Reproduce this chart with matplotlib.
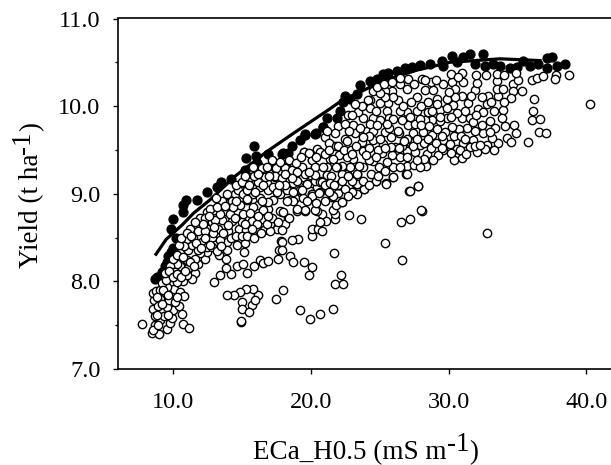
import numpy as np
from matplotlib import pyplot as plt

plt.rcParams['font.family'] = ['Liberation Serif', 'DejaVu Serif']

# (ECa, yield)
open_base = [
    (7.72, 7.51), (8.45, 7.41), (8.69, 7.50), (9.01, 7.40), (9.54, 7.46), (9.78, 7.52), (9.90, 7.58),
    (10.75, 7.51), (11.16, 7.47), (10.63, 7.63), (10.02, 7.67), (10.46, 7.72), (9.18, 7.66), (8.57, 7.68),
    (8.62, 7.79), (8.57, 7.87), (8.76, 7.89), (9.30, 7.79), (9.78, 7.86), (10.09, 7.91), (10.51, 7.88),
    (10.80, 7.83), (9.54, 7.71), (9.05, 7.56), (9.37, 7.60), (8.57, 7.44), (8.93, 7.50), (8.69, 7.60),
    (9.73, 7.79), (9.05, 7.80), (10.14, 7.77), (9.54, 7.94), (9.05, 7.90),
]
open_lower = [
    (13.00, 7.99), (13.41, 8.07), (14.18, 8.08), (13.85, 8.15), (14.62, 8.18), (15.10, 8.20), (15.39, 8.09),
    (15.88, 8.18), (16.31, 8.24), (16.56, 8.21), (16.92, 8.23), (17.65, 8.25), (17.72, 8.36), (17.81, 8.46),
    (17.45, 7.80), (16.19, 7.85), (15.83, 7.91), (15.27, 7.91), (14.86, 7.88), (14.43, 7.84), (13.94, 7.84),
    (15.03, 7.76), (14.98, 7.68), (15.76, 7.73), (15.54, 7.65), (14.91, 7.54), (14.91, 7.55), (15.95, 7.79),
    (13.34, 8.30), (13.85, 8.25), (13.94, 8.45), (13.94, 8.36), (14.67, 8.42), (15.23, 8.44), (15.15, 8.33),
    (20.55, 8.61),
    (32.77, 8.55), (28.05, 8.80), (27.21, 8.71), (26.53, 8.68), (25.39, 8.44), (26.60, 8.24), (23.63, 8.71),
    (22.78, 8.76), (27.81, 9.09), (27.16, 9.03), (21.71, 8.32), (22.20, 8.07), (21.76, 7.97), (22.37, 7.97),
    (21.59, 7.68), (20.67, 7.63), (19.95, 7.57), (19.20, 7.67), (17.96, 7.90), (19.51, 8.22), (20.12, 8.16),
    (19.90, 8.07), (18.50, 8.29), (18.69, 8.22), (19.10, 8.48), (18.62, 8.47), (20.12, 8.52), (20.12, 8.60),
    (20.55, 8.60), (20.80, 8.58), (21.09, 8.69), (20.80, 8.77), (21.76, 8.71), (21.76, 8.77), (21.64, 8.81),
    (22.25, 8.91), (21.84, 8.87), (21.52, 8.96), (22.00, 9.01), (22.97, 9.02), (23.34, 9.00), (23.87, 9.05),
    (23.29, 9.11), (24.74, 9.15), (25.47, 9.12), (25.95, 9.19), (26.92, 9.22), (20.63, 9.02), (20.07, 9.00),
    (19.27, 9.04), (18.86, 8.95), (19.59, 8.80), (20.43, 8.80), (18.38, 8.72), (18.13, 8.66), (18.98, 8.80),
    (19.46, 8.95), (18.30, 8.96), (20.67, 9.14), (18.86, 9.15), (20.19, 9.12), (21.16, 9.21), (22.00, 9.10),
    (22.61, 9.22), (23.38, 9.22), (17.89, 8.79), (17.89, 8.45), (17.89, 8.36),
]
open_left = [
    (11.60, 8.10), (11.35, 8.03), (10.75, 8.00), (10.26, 7.99), (9.78, 8.05), (10.51, 8.18), (11.11, 8.15),
    (11.79, 8.20), (12.32, 8.26), (12.44, 8.33), (11.96, 8.32), (11.60, 8.26), (10.99, 8.24), (10.26, 8.20),
    (10.51, 8.32), (11.11, 8.36), (11.35, 8.41), (10.99, 8.48), (11.47, 8.49), (12.08, 8.45), (12.81, 8.49),
    (13.05, 8.42), (12.49, 8.39), (11.23, 8.60), (11.84, 8.58), (12.56, 8.60), (13.29, 8.60), (14.02, 8.58),
    (14.81, 8.60), (15.30, 8.59), (16.19, 8.60), (16.60, 8.59), (17.04, 8.65), (17.52, 8.60), (17.89, 8.59),
    (18.44, 8.72), (17.77, 8.80), (16.92, 8.83), (16.44, 8.71), (15.71, 8.69), (14.98, 8.68), (14.26, 8.69),
    (13.53, 8.70), (12.80, 8.68), (11.96, 8.72), (12.49, 8.79), (12.97, 8.81), (13.77, 8.80), (14.38, 8.85),
    (14.86, 8.87), (15.35, 8.93), (14.50, 9.00), (13.53, 8.91), (15.23, 9.12), (15.71, 9.15), (16.31, 9.08),
    (16.56, 9.28), (17.40, 9.29), (18.18, 9.30), (19.34, 9.31), (20.31, 9.30), (20.07, 9.12), (19.22, 9.04),
    (18.25, 9.13), (17.40, 9.19), (16.80, 9.12), (17.52, 9.02), (18.49, 8.93), (19.58, 8.81), (20.31, 8.81),
    (20.07, 9.00), (17.28, 8.93), (16.19, 8.87), (18.00, 8.79), (18.98, 8.83), (18.49, 9.27), (19.58, 9.15),
    (20.43, 9.08), (16.12, 9.27), (20.67, 8.68),
    (9.78, 8.17), (10.14, 8.11), (10.99, 8.07), (11.84, 8.36), (12.80, 8.39), (13.41, 8.47), (12.32, 8.58),
    (13.05, 8.70), (14.14, 8.91), (13.90, 9.00), (14.74, 9.04), (15.10, 9.00), (15.83, 9.00), (16.31, 8.95),
    (16.92, 9.04), (17.77, 9.00), (18.25, 9.04), (18.73, 9.12), (15.83, 8.85), (16.56, 8.81), (15.10, 8.77),
    (14.14, 8.77), (13.41, 8.77), (12.32, 8.72), (17.04, 8.58), (16.07, 8.65),
    (17.21, 9.39), (16.44, 9.29), (17.46, 9.29), (19.51, 9.48), (20.48, 9.50), (20.72, 9.47), (20.07, 9.38),
    (21.16, 9.30), (18.13, 9.29), (18.62, 9.27), (17.41, 9.20), (16.68, 9.19), (17.94, 9.18), (19.46, 9.19),
    (20.31, 9.15), (20.67, 9.13), (19.71, 9.11), (18.98, 9.15), (16.20, 9.13), (15.59, 9.19), (15.35, 9.04),
    (15.96, 9.02), (16.56, 9.10), (17.29, 9.08), (18.13, 9.10), (19.34, 9.04), (20.67, 9.02), (20.07, 8.98),
    (18.74, 8.92), (17.53, 9.02), (16.92, 8.91), (14.26, 8.92), (15.35, 8.94), (13.54, 8.92), (12.69, 8.83),
    (14.38, 8.85), (16.44, 8.92), (18.25, 8.92), (21.04, 9.65), (21.40, 9.57),
]
open_right = [
    (28.05, 10.31), (27.09, 10.31), (26.48, 10.25), (25.88, 10.17), (25.39, 10.17), (24.54, 10.17), (24.30, 10.07),
    (25.63, 10.03), (26.36, 10.07), (26.96, 10.20), (27.69, 10.10), (28.30, 10.18), (28.90, 10.18), (29.63, 10.25),
    (30.23, 10.27), (31.08, 10.27), (30.47, 10.20), (31.93, 10.18), (32.05, 10.26), (33.50, 10.29), (33.62, 10.11),
    (32.89, 10.12), (33.50, 10.20), (33.98, 10.20), (34.71, 10.25), (35.07, 10.30), (36.04, 10.30), (36.40, 10.32),
    (36.84, 10.34), (37.78, 10.35), (37.73, 10.31), (38.77, 10.36), (34.66, 10.17), (35.31, 10.17), (34.54, 10.09),
    (36.21, 10.08), (40.27, 10.02), (36.11, 9.94), (36.04, 9.84), (36.64, 9.85), (33.93, 9.96), (33.86, 9.86),
    (34.10, 9.77), (34.76, 9.78), (34.90, 9.69), (34.22, 9.64), (34.51, 9.59), (36.60, 9.70), (37.08, 9.69),
    (35.77, 9.59), (33.62, 9.58), (33.14, 9.64), (32.53, 9.69), (32.77, 9.56), (32.05, 9.48), (32.65, 9.51),
    (31.80, 9.61), (31.08, 9.58), (30.96, 9.41), (30.40, 9.39), (29.63, 9.50), (29.26, 9.44), (28.42, 9.45),
    (28.37, 9.32), (28.85, 9.38), (27.93, 9.56), (28.78, 9.67), (28.17, 9.71), (27.45, 9.69), (27.21, 9.59),
    (26.43, 9.69), (26.12, 9.53), (25.39, 9.70), (24.54, 9.61), (23.70, 9.59), (23.21, 9.69), (22.49, 9.62),
    (21.35, 9.58), (20.43, 9.51), (20.67, 9.48), (19.51, 9.48), (22.00, 9.77), (23.09, 9.79), (23.82, 9.86),
    (24.54, 9.86), (25.51, 9.94), (25.03, 10.03), (23.46, 9.93), (22.73, 9.90), (21.76, 9.69), (21.16, 9.72),
    (20.07, 9.38), (20.31, 9.30), (21.40, 9.40), (22.08, 9.44), (23.09, 9.40), (23.77, 9.49), (24.50, 9.37),
    (25.15, 9.46), (25.88, 9.44), (27.01, 9.49), (27.57, 9.48), (26.96, 9.32), (26.00, 9.30), (24.98, 9.30),
    (23.82, 9.30), (22.85, 9.30), (22.25, 9.23), (21.16, 9.21), (19.58, 9.22), (20.31, 9.21), (20.79, 9.13),
    (22.00, 9.10), (23.33, 9.11), (23.38, 9.22), (24.74, 9.15), (25.46, 9.11), (25.95, 9.19), (26.96, 9.22),
    (27.81, 9.09), (27.21, 9.03), (23.89, 9.05), (22.97, 9.02), (20.62, 9.01), (21.64, 8.97), (22.25, 8.91),
    (27.98, 8.81), (29.87, 9.86), (30.96, 9.86), (31.56, 9.87), (31.32, 9.75), (30.79, 9.74), (30.23, 9.76),
    (29.75, 9.70), (29.14, 9.74), (28.78, 9.84), (29.38, 9.96), (30.35, 10.01), (31.44, 10.03), (32.17, 9.97),
    (32.53, 9.93), (32.41, 9.78), (28.54, 9.93), (27.09, 9.79), (26.36, 9.72), (25.71, 9.86), (24.18, 10.07),
    (27.69, 9.95), (26.96, 9.93), (31.80, 9.82), (29.63, 9.61), (30.11, 9.57), (30.59, 9.51), (31.56, 9.53),
    (29.14, 10.08), (29.87, 10.08), (26.48, 9.95), (25.03, 9.84), (27.57, 9.80), (28.30, 9.84), (25.80, 9.53),
    (25.27, 9.57), (26.48, 9.42), (24.06, 9.72), (24.54, 9.72), (22.25, 9.32), (22.61, 9.42),
]
# the thick overlapping parts, read less exactly
open_dense = [
    (9.2, 7.98), (9.5, 8.02), (9.4, 8.10), (9.7, 8.12), (10.0, 8.05), (10.3, 8.08), (10.6, 8.05), (10.9, 8.12),
    (11.2, 8.22), (11.5, 8.18), (10.0, 8.25), (10.3, 8.30), (10.7, 8.28), (10.8, 8.40), (10.4, 8.42), (10.6, 8.50),
    (11.0, 8.55), (11.3, 8.52), (11.7, 8.44), (12.0, 8.38), (12.3, 8.50), (12.7, 8.42), (13.2, 8.35), (13.5, 8.40),
    (12.9, 8.55), (12.2, 8.65), (11.6, 8.68), (12.6, 8.75), (13.0, 8.62), (13.6, 8.55), (14.2, 8.50), (14.6, 8.52),
    (14.0, 8.64), (14.5, 8.72), (15.0, 8.52), (15.4, 8.52), (15.9, 8.50), (15.7, 8.60), (15.2, 8.65), (16.4, 8.55),
    (16.8, 8.66), (17.2, 8.72), (17.6, 8.68), (13.2, 8.85), (13.8, 8.86), (14.6, 8.92), (15.6, 8.78), (16.2, 8.75),
    (16.9, 8.75), (13.1, 8.95), (9.3, 7.90), (9.6, 7.84), (10.3, 7.82), (8.9, 7.72), (9.2, 7.74), (8.85, 7.62),
    (9.6, 7.62), (8.8, 7.82),
    (14.6, 9.10), (15.0, 9.13), (15.5, 9.10), (15.2, 9.20), (15.9, 9.20), (16.2, 9.22), (15.8, 9.30), (16.8, 9.30),
    (17.8, 9.36), (18.4, 9.38), (18.9, 9.35), (19.3, 9.42), (19.9, 9.46), (20.4, 9.42), (21.0, 9.45), (21.3, 9.50),
    (21.6, 9.40), (21.8, 9.55), (21.9, 9.30), (21.5, 9.20), (21.0, 9.10), (19.0, 9.25), (19.9, 9.25), (17.0, 9.20),
    (18.6, 9.18), (18.1, 9.22), (17.7, 9.10), (18.7, 9.02), (19.7, 8.92), (20.4, 8.90), (21.0, 8.92), (21.3, 9.02),
    (21.4, 9.12), (20.9, 9.30), (21.7, 9.10), (22.3, 9.15), (22.5, 9.05), (22.7, 8.97), (23.0, 9.15), (23.8, 9.15),
    (24.2, 9.10), (24.4, 9.22), (24.2, 9.38), (24.9, 9.20), (23.5, 9.32), (22.7, 9.20), (21.8, 9.30), (22.0, 9.55),
    (22.4, 9.50), (22.9, 9.50), (23.3, 9.55), (24.2, 9.52), (24.9, 9.50), (25.5, 9.36), (25.4, 9.26), (26.5, 9.30),
    (27.5, 9.33), (27.9, 9.30), (26.6, 9.54), (27.0, 9.62), (27.4, 9.55), (28.2, 9.58), (28.7, 9.52), (29.1, 9.58),
    (29.5, 9.52), (30.2, 9.47), (30.8, 9.50), (31.3, 9.45), (31.9, 9.55), (32.3, 9.56), (33.3, 9.50), (33.4, 9.75),
    (33.0, 9.83), (33.3, 9.95), (32.8, 10.02), (32.4, 10.10), (31.6, 10.12), (31.0, 10.12), (30.5, 10.10),
    (30.0, 10.16), (29.2, 10.02), (28.8, 9.94), (28.0, 10.00), (27.3, 10.05), (26.7, 10.00), (26.0, 10.10),
    (25.4, 10.10), (25.0, 10.15), (24.8, 10.22), (25.3, 10.25), (25.9, 10.28), (26.5, 10.32), (27.5, 10.25),
    (28.7, 10.27), (29.1, 10.30), (28.3, 10.30), (30.2, 10.37), (31.0, 10.38), (32.0, 10.35), (33.5, 10.37),
    (34.0, 10.35), (34.9, 10.38), (30.7, 10.33), (32.7, 10.35), (24.3, 9.98), (23.7, 10.00), (23.2, 10.02),
    (24.7, 9.95), (23.0, 9.90), (22.5, 9.80), (22.8, 9.72), (23.6, 9.75), (24.3, 9.80), (24.8, 9.78), (25.7, 9.75),
    (25.8, 9.65), (26.0, 9.85), (26.6, 9.84), (27.2, 9.88), (27.9, 9.85), (28.0, 9.78), (28.6, 9.77), (29.4, 9.83),
    (29.5, 9.66), (30.4, 9.66), (30.9, 9.66), (31.2, 9.62), (31.9, 9.72), (32.0, 9.90), (31.2, 9.95), (30.6, 9.92),
    (30.2, 9.88), (29.9, 9.98), (29.4, 9.88), (28.5, 10.05), (34.0, 10.05), (33.1, 10.05), (33.0, 9.70), (22.6, 9.60),
    (23.0, 9.45), (24.0, 9.44), (24.7, 9.42), (25.4, 9.52), (25.0, 9.63), (24.2, 9.66), (23.8, 9.65), (25.5, 9.80),
    (26.8, 9.60), (27.7, 9.62), (28.5, 9.62), (28.2, 9.40), (27.7, 9.38), (27.0, 9.42), (26.4, 9.52),
]
filled_pts = [
    (8.69, 8.03), (8.81, 8.05), (9.18, 8.11), (9.42, 8.18), (9.54, 8.22), (9.66, 8.29), (9.90, 8.32), (9.83, 8.33),
    (10.02, 8.38), (10.22, 8.49), (9.83, 8.60), (10.02, 8.71), (10.75, 8.79), (10.75, 8.87), (10.92, 8.93),
    (11.72, 8.93), (12.45, 9.02), (13.22, 9.08), (13.46, 9.13), (14.21, 9.17), (15.23, 9.27), (16.08, 9.34),
    (15.30, 9.41), (16.03, 9.43), (15.91, 9.54), (16.07, 9.35), (16.92, 9.45), (17.89, 9.45), (18.00, 9.46),
    (18.38, 9.47), (18.62, 9.55), (19.22, 9.61), (19.59, 9.68), (20.36, 9.69), (20.31, 9.68), (19.58, 9.67),
    (20.87, 9.76), (20.91, 9.76), (21.16, 9.86), (21.88, 9.87), (22.12, 9.95), (22.37, 10.05), (22.49, 10.12),
    (22.85, 10.08), (23.33, 10.14), (23.58, 10.24), (24.30, 10.29), (24.79, 10.31), (25.27, 10.37), (25.63, 10.38),
    (26.24, 10.40), (26.84, 10.43), (27.33, 10.45), (27.93, 10.47), (28.66, 10.48), (29.51, 10.52), (30.23, 10.57),
    (31.08, 10.56), (31.56, 10.60), (32.48, 10.60), (31.93, 10.48), (32.65, 10.46), (33.74, 10.46), (34.47, 10.44),
    (34.95, 10.45), (35.43, 10.52), (35.92, 10.46), (36.52, 10.48), (37.13, 10.55), (37.54, 10.56), (37.13, 10.44),
    (37.85, 10.46), (38.46, 10.48), (29.63, 10.46), (30.59, 10.50), (33.26, 10.48),
]
curve_x = [8.76, 9.5, 10.63, 11.5, 12.68, 14.5, 16.8, 18.74, 21.4, 22.12, 25.27, 27.69, 30.1, 33.74, 36.64]
curve_y = [8.31, 8.48, 8.64, 8.78, 8.93, 9.20, 9.48, 9.69, 9.97, 10.05, 10.29, 10.41, 10.50, 10.54, 10.52]

x_ticks = [10, 20, 30, 40]
y_ticks = [7, 8, 9, 10, 11]
y_minor = [7.5, 8.5, 9.5, 10.5]

fig = plt.figure(figsize=(6.11, 4.65), dpi=100)
ax = fig.add_axes([118 / 611, 1 - 369 / 465, 1 - 118 / 611, (369 - 18.5) / 465])

ax.plot(curve_x, curve_y, color="black", lw=2.3, zorder=1)
fx, fy = zip(*filled_pts)
ax.scatter(fx, fy, s=42, color="black", linewidths=0.9, zorder=2)
ox, oy = zip(*(open_base + open_lower + open_left + open_right + open_dense))
ax.scatter(ox, oy, s=36, facecolor="white", edgecolor="black", linewidths=1.0, zorder=3)

ax.set_xlim(6.0, 41.8)
ax.set_ylim(7, 11)
ax.set_xticks(x_ticks, [f"{t:.1f}" for t in x_ticks])
ax.set_yticks(y_ticks, [f"{t:.1f}" for t in y_ticks])
ax.set_yticks(y_minor, minor=True)
ax.tick_params(axis="x", length=3.6, width=1, pad=13, labelsize=17.5)
ax.tick_params(axis="y", length=3.6, width=1, pad=9, labelsize=17.5)
ax.tick_params(axis="y", which="minor", length=2.2, width=1)
ax.spines["right"].set_visible(False)
for side in ["left", "bottom", "top"]:
    ax.spines[side].set_linewidth(1.2)

# the exponents are nearly full size in the original, so chain plain texts
xl = fig.text(253 / 611, 1 - 459 / 465, "ECa_H0.5 (mS m", fontsize=19.5, va="baseline")
xs = ax.annotate("-1", xy=(1, 0), xycoords=xl, xytext=(0, 5.5), textcoords="offset points",
                 fontsize=19.5, va="bottom", annotation_clip=False)
ax.annotate(")", xy=(1, 0), xycoords=xs, xytext=(0, -5.5), textcoords="offset points",
            fontsize=19.5, va="bottom", annotation_clip=False)
yl = fig.text(38 / 611, 1 - 268 / 465, "Yield (t ha", fontsize=19.5, rotation=90,
              ha="left", va="baseline", rotation_mode="anchor")
ys = ax.annotate("-1", xy=(1, 1), xycoords=yl, xytext=(-5.5, 0), textcoords="offset points",
                 fontsize=19.5, rotation=90, ha="right", va="bottom", annotation_clip=False)
ax.annotate(")", xy=(1, 1), xycoords=ys, xytext=(5.5, 0), textcoords="offset points",
            fontsize=19.5, rotation=90, ha="right", va="bottom", annotation_clip=False)

fig.savefig("out.png", dpi=100)
